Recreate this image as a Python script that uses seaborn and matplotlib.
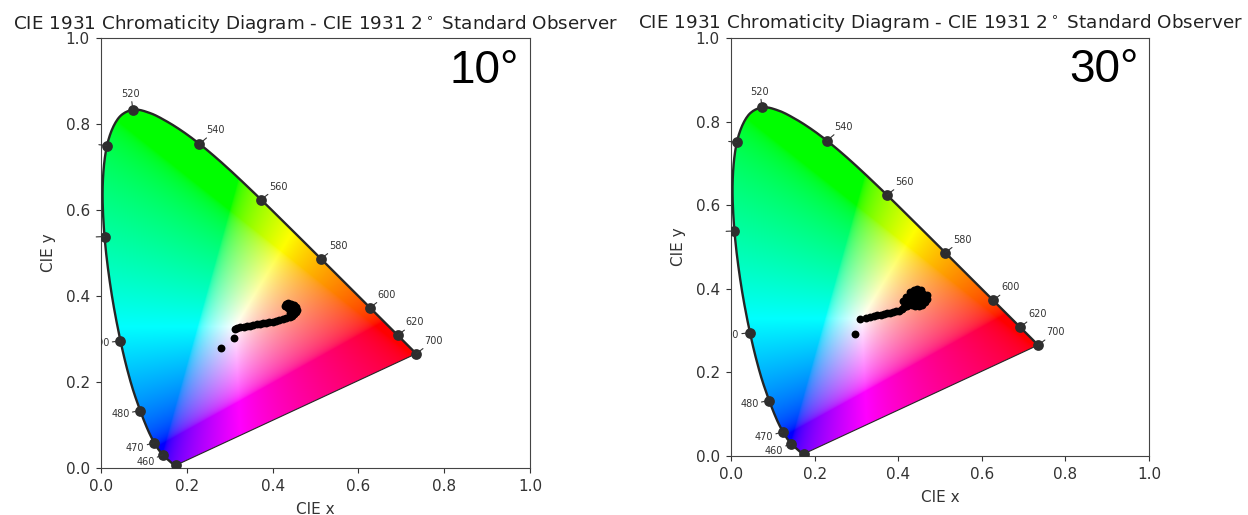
import numpy as np
import pandas as pd
import matplotlib
matplotlib.use("Agg")
import matplotlib.pyplot as plt
from matplotlib.patches import Polygon
import seaborn as sns

# CIE 1931 2 deg spectral locus (wavelength nm, x, y)
wavelengths = [380, 385, 390, 395, 400, 405, 410, 415, 420, 425, 430, 435, 440, 445,
               450, 455, 460, 465, 470, 475, 480, 485, 490, 495, 500, 505, 510, 515,
               520, 525, 530, 535, 540, 545, 550, 555, 560, 565, 570, 575, 580, 585,
               590, 595, 600, 605, 610, 615, 620, 625, 630, 635, 640, 645, 650, 655,
               660, 665, 670, 675, 680, 685, 690, 695, 700]
locus_x = [0.1741, 0.1740, 0.1738, 0.1736, 0.1733, 0.1730, 0.1726, 0.1721, 0.1714, 0.1703,
           0.1689, 0.1669, 0.1644, 0.1611, 0.1566, 0.1510, 0.1440, 0.1355, 0.1241, 0.1096,
           0.0913, 0.0687, 0.0454, 0.0235, 0.0082, 0.0039, 0.0139, 0.0389, 0.0743, 0.1142,
           0.1547, 0.1929, 0.2296, 0.2658, 0.3016, 0.3373, 0.3731, 0.4087, 0.4441, 0.4788,
           0.5125, 0.5448, 0.5752, 0.6029, 0.6270, 0.6482, 0.6658, 0.6801, 0.6915, 0.7006,
           0.7079, 0.7140, 0.7190, 0.7230, 0.7260, 0.7283, 0.7300, 0.7311, 0.7320, 0.7327,
           0.7334, 0.7340, 0.7344, 0.7346, 0.7347]
locus_y = [0.0050, 0.0050, 0.0049, 0.0049, 0.0048, 0.0048, 0.0048, 0.0048, 0.0051, 0.0058,
           0.0069, 0.0086, 0.0109, 0.0138, 0.0177, 0.0227, 0.0297, 0.0399, 0.0578, 0.0868,
           0.1327, 0.2007, 0.2950, 0.4127, 0.5384, 0.6548, 0.7502, 0.8120, 0.8338, 0.8262,
           0.8059, 0.7816, 0.7543, 0.7243, 0.6923, 0.6589, 0.6245, 0.5896, 0.5547, 0.5202,
           0.4866, 0.4544, 0.4242, 0.3965, 0.3725, 0.3514, 0.3340, 0.3197, 0.3083, 0.2993,
           0.2920, 0.2859, 0.2809, 0.2770, 0.2740, 0.2717, 0.2700, 0.2689, 0.2680, 0.2673,
           0.2666, 0.2660, 0.2656, 0.2654, 0.2653]
marker_wavelengths = [390, 460, 470, 480, 490, 500, 510, 520, 540, 560, 580, 600, 620, 700]
label_wavelengths = [460, 470, 480, 490, 500, 510, 520, 540, 560, 580, 600, 620, 700]

# measured chromaticities (10 deg panel)
x_10 = [0.279, 0.309, 0.312, 0.318, 0.325, 0.333, 0.340, 0.347, 0.355, 0.363, 0.370, 0.378,
        0.385, 0.392, 0.400, 0.408, 0.416, 0.424, 0.432, 0.440, 0.446, 0.451, 0.455, 0.456,
        0.454, 0.450, 0.444, 0.437, 0.431, 0.430, 0.436, 0.444, 0.448, 0.441, 0.447, 0.440,
        0.452, 0.449]
y_10 = [0.278, 0.303, 0.323, 0.326, 0.327, 0.328, 0.330, 0.331, 0.332, 0.334, 0.334, 0.336,
        0.337, 0.338, 0.340, 0.342, 0.344, 0.346, 0.348, 0.350, 0.353, 0.357, 0.362, 0.368,
        0.374, 0.378, 0.382, 0.384, 0.381, 0.376, 0.372, 0.370, 0.365, 0.360, 0.376, 0.377,
        0.370, 0.360]

# measured chromaticities (30 deg panel)
x_30 = [0.297, 0.309, 0.322, 0.332, 0.341, 0.350, 0.358, 0.366, 0.373, 0.381, 0.388, 0.395,
        0.402, 0.408, 0.414, 0.420, 0.425, 0.430, 0.435, 0.440, 0.445, 0.450, 0.455, 0.460,
        0.465, 0.468, 0.465, 0.458, 0.450, 0.440, 0.432, 0.445, 0.452, 0.458, 0.440, 0.432,
        0.425, 0.420, 0.438, 0.446, 0.455, 0.428, 0.418, 0.412, 0.462, 0.470, 0.446, 0.436]
y_30 = [0.293, 0.328, 0.331, 0.333, 0.336, 0.337, 0.338, 0.340, 0.341, 0.343, 0.345, 0.346,
        0.348, 0.352, 0.356, 0.360, 0.365, 0.370, 0.375, 0.380, 0.385, 0.390, 0.392, 0.388,
        0.383, 0.376, 0.368, 0.362, 0.358, 0.360, 0.362, 0.370, 0.376, 0.380, 0.390, 0.385,
        0.378, 0.370, 0.398, 0.400, 0.398, 0.392, 0.380, 0.372, 0.372, 0.385, 0.364, 0.392]

title = "CIE 1931 Chromaticity Diagram - CIE 1931 2$^\\circ$ Standard Observer"
panel_labels = ["10°", "30°"]


def catmull_rom(xs, ys, n=12):
    """Smooth path drawn through the given vertices (rendering only)."""
    P = np.column_stack([xs, ys])
    P = np.vstack([P[0], P, P[-1]])
    out = []
    t = np.linspace(0, 1, n, endpoint=False)[:, None]
    for i in range(1, len(P) - 2):
        p0, p1, p2, p3 = P[i - 1], P[i], P[i + 1], P[i + 2]
        seg = 0.5 * ((2 * p1) + (-p0 + p2) * t + (2 * p0 - 5 * p1 + 4 * p2 - p3) * t ** 2
                     + (-p0 + 3 * p1 - 3 * p2 + p3) * t ** 3)
        out.append(seg)
    out.append(P[-2][None, :])
    return np.vstack(out)


locus = pd.DataFrame({"wl": wavelengths, "x": locus_x, "y": locus_y})
smooth = catmull_rom(locus_x, locus_y)
smooth_df = pd.DataFrame({"x": smooth[:, 0], "y": smooth[:, 1]})

# ---- diagram colours ----
M = np.array([[3.2406, -1.5372, -0.4986],
              [-0.9689, 1.8758, 0.0415],
              [0.0557, -0.2040, 1.0570]])
N = 600
gx, gy = np.meshgrid(np.linspace(0, 1, N), np.linspace(0, 1, N))
gy_safe = np.where(gy < 1e-4, 1e-4, gy)
XYZ = np.stack([gx / gy_safe, np.ones_like(gx), (1 - gx - gy) / gy_safe], axis=-1)
RGB = XYZ @ M.T
RGB = RGB / np.max(RGB, axis=-1, keepdims=True)
RGB = np.clip(RGB, 0, 1)
RGB = np.where(RGB <= 0.0031308, 12.92 * RGB, 1.055 * RGB ** (1 / 2.4) - 0.055)
RGB = np.clip(RGB, 0, 1)

fig = plt.figure(figsize=(12.48, 5.15), dpi=100)
ax1 = fig.add_axes([101 / 1248, (515 - 468) / 515, 429 / 1248, 430 / 515])
ax2 = fig.add_axes([731 / 1248, (515 - 456) / 515, 418 / 1248, 418 / 515])

lx = np.array(locus_x)
ly = np.array(locus_y)

for ax, px, py, lab in [(ax1, x_10, y_10, panel_labels[0]), (ax2, x_30, y_30, panel_labels[1])]:
    poly = Polygon(smooth, closed=True, facecolor="none", edgecolor="none",
                   transform=ax.transData)
    ax.add_patch(poly)
    im = ax.imshow(RGB, extent=[0, 1, 0, 1], origin="lower", interpolation="bilinear",
                   zorder=1)
    im.set_clip_path(poly)
    sns.lineplot(data=smooth_df, x="x", y="y", sort=False, estimator=None, ax=ax,
                 color="#262626", lw=1.7, zorder=3)
    sns.lineplot(x=[locus_x[-1], locus_x[0]], y=[locus_y[-1], locus_y[0]], sort=False,
                 estimator=None, ax=ax, color="#262626", lw=0.8, zorder=3)
    # wavelength markers and labels
    sel = locus[locus["wl"].isin(marker_wavelengths)]
    sns.scatterplot(data=sel, x="x", y="y", ax=ax, color="#2e2e2e", s=60,
                    linewidth=0, zorder=4)
    for wl in label_wavelengths:
        i = wavelengths.index(wl)
        i0, i1 = max(i - 1, 0), min(i + 1, len(wavelengths) - 1)
        dx = lx[i1] - lx[i0]
        dy = ly[i1] - ly[i0]
        n = np.array([-dy, dx])
        n = n / np.hypot(*n)
        ha = "left" if n[0] > 0.3 else ("right" if n[0] < -0.3 else "center")
        va = "bottom" if n[1] > 0.7 else ("top" if n[1] < -0.8 else "center")
        ax.annotate(str(wl), xy=(lx[i], ly[i]), xytext=(n[0] * 8, n[1] * 8),
                    textcoords="offset points", ha=ha, va=va, fontsize=7,
                    color="#333333", clip_on=True,
                    arrowprops=dict(arrowstyle="-", color="#333333", lw=0.8,
                                    shrinkA=0, shrinkB=0), zorder=5)
    sns.scatterplot(x=px, y=py, ax=ax, color="black", s=32, linewidth=0, zorder=6)
    ax.set_xlim(0, 1)
    ax.set_ylim(0, 1)
    ax.set_xticks(np.arange(0, 1.01, 0.2))
    ax.set_yticks(np.arange(0, 1.01, 0.2))
    ax.tick_params(labelsize=11, colors="#333333", pad=4.5)
    for s in ax.spines.values():
        s.set_color("#444444")
    ax.set_xlabel("CIE x", fontsize=11, color="#333333", labelpad=6)
    ax.set_ylabel("CIE y", fontsize=11, color="#333333", labelpad=7)
    ax.set_title(title, fontsize=13.2, color="#222222", pad=7)
    ax.text(0.975, 0.975, lab, transform=ax.transAxes, ha="right", va="top",
            fontsize=33, family="Liberation Sans", color="black", zorder=7)

fig.savefig("out.png", dpi=100)
